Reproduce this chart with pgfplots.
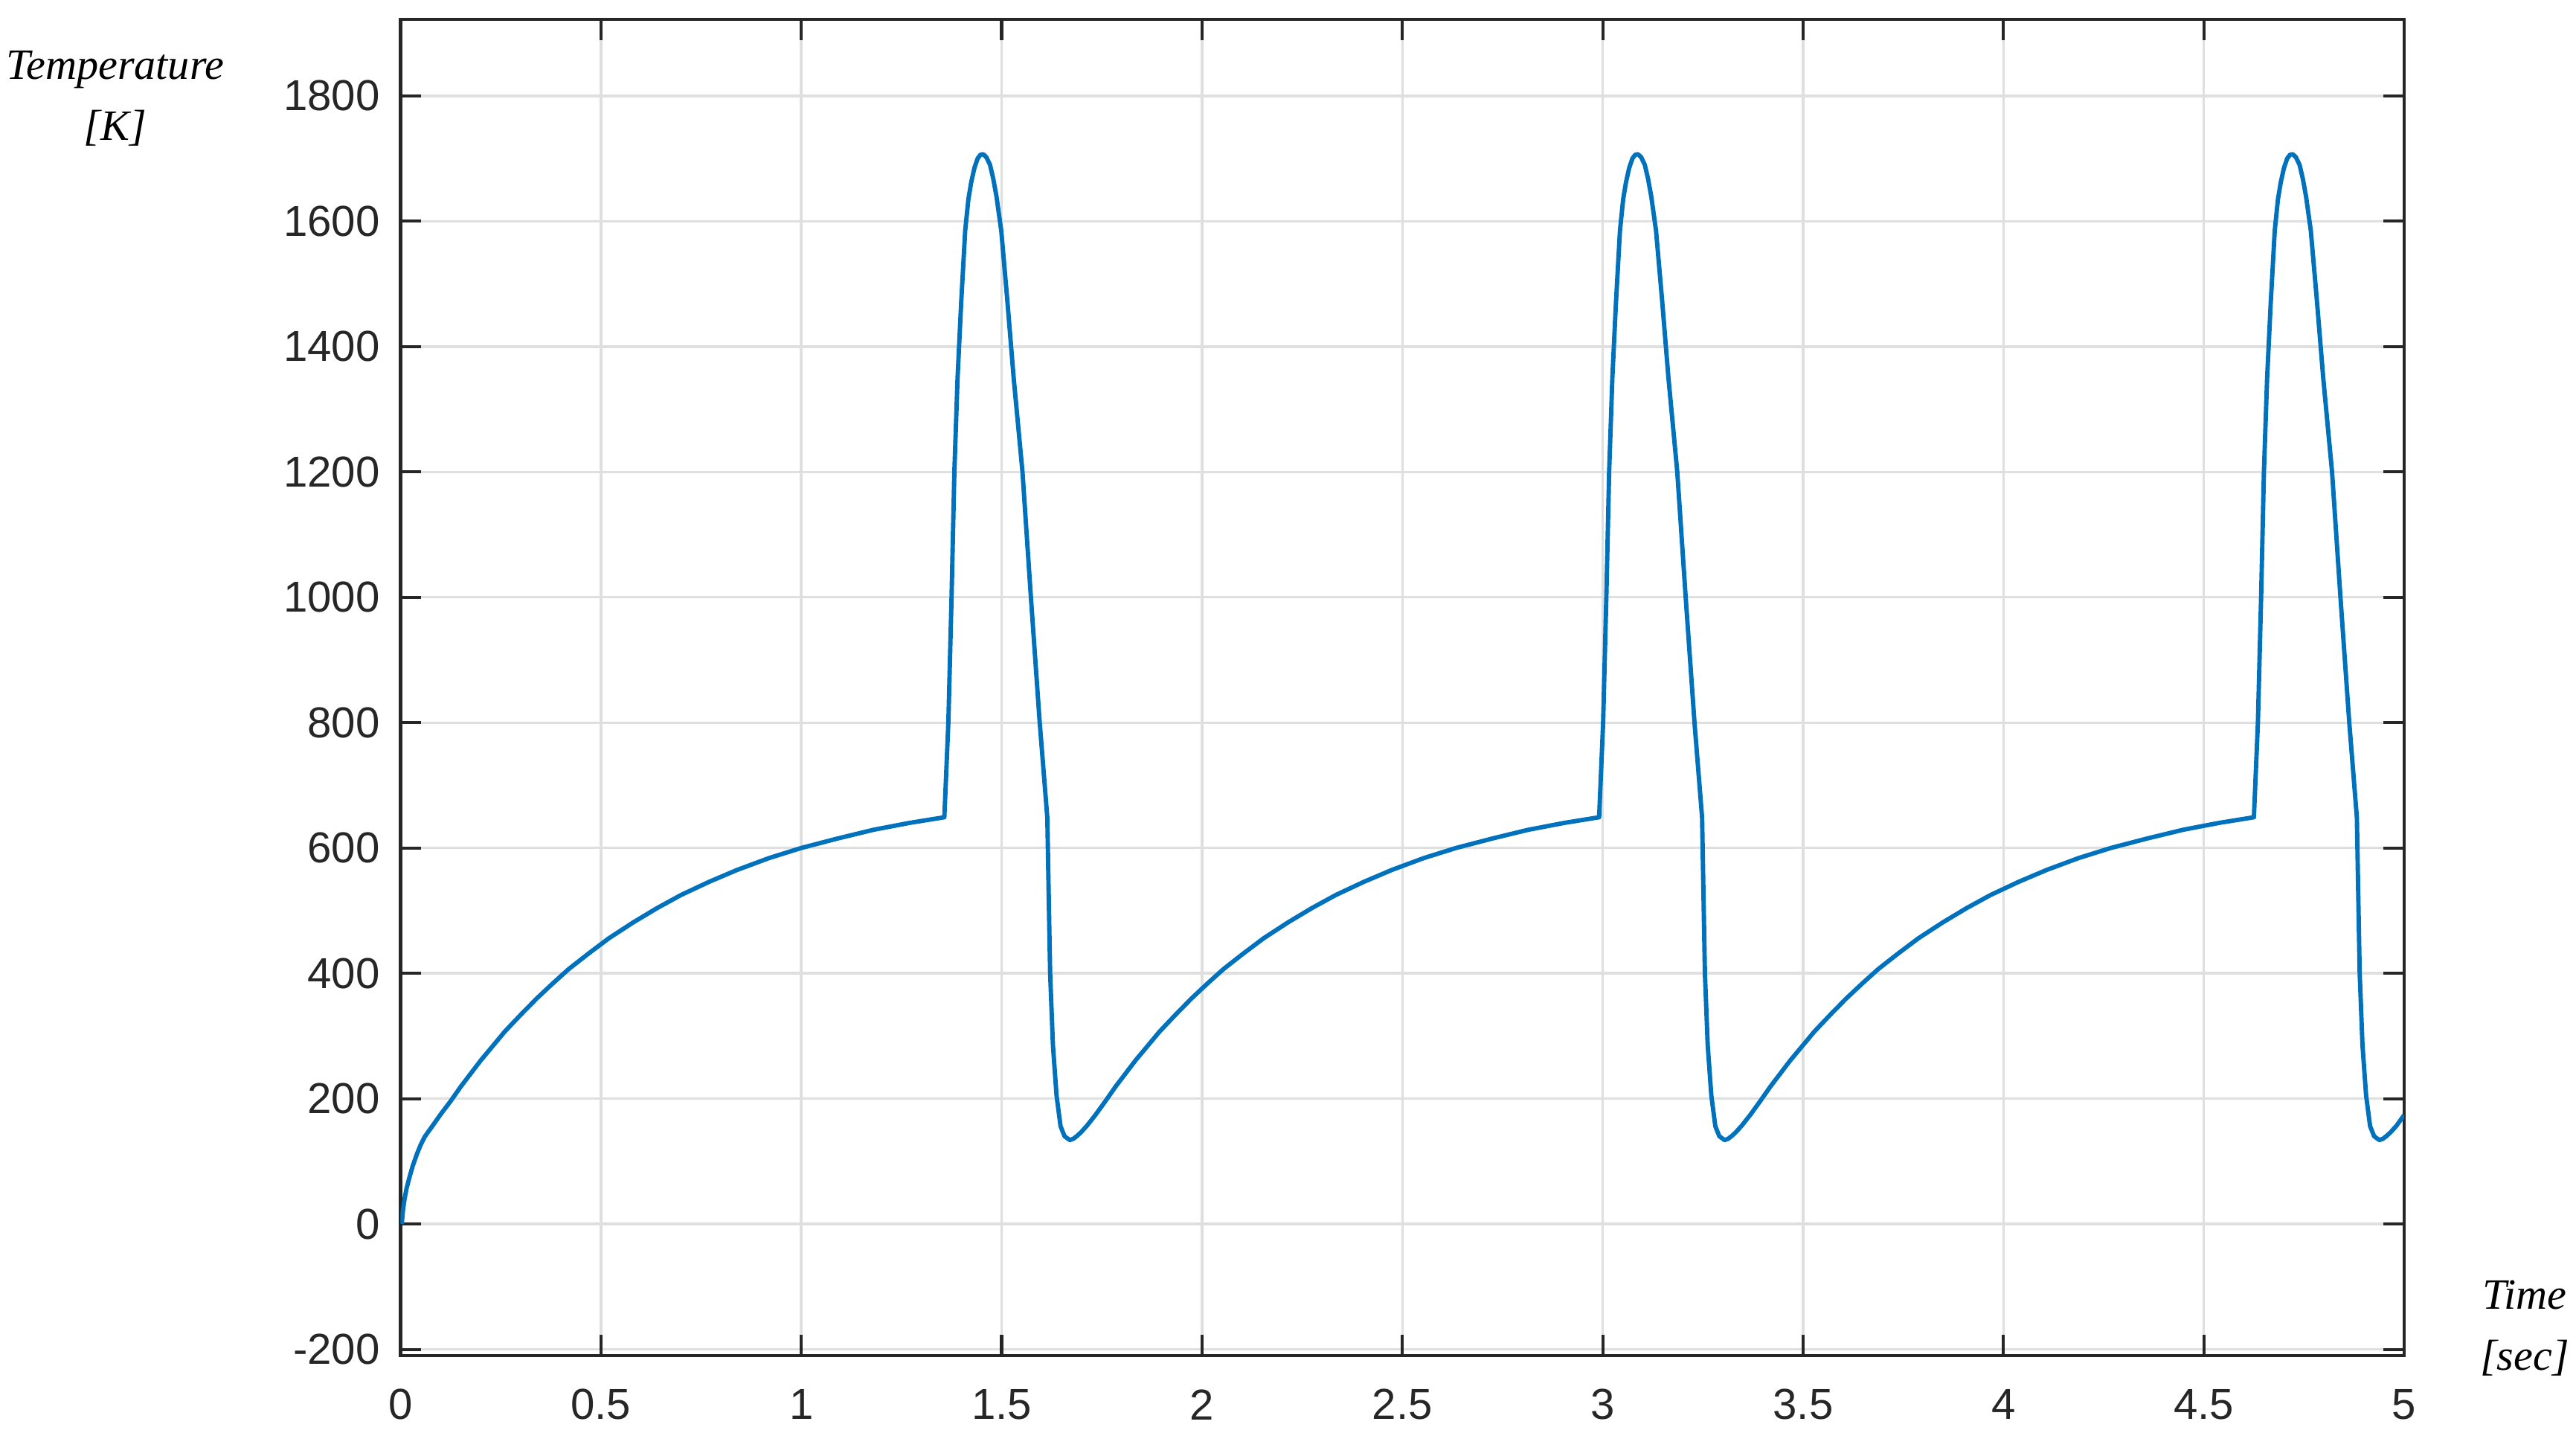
\documentclass[border=0pt]{standalone}
\usepackage{fontspec}
\setmainfont{Liberation Sans}
\newfontfamily\labelfont{Liberation Serif}
\usepackage{pgfplots}
\pgfplotsset{compat=1.18}
\definecolor{mblue}{RGB}{0,114,189}
\definecolor{gridgray}{RGB}{223,223,223}
\definecolor{axisgray}{RGB}{38,38,38}

% temperature trace
\pgfplotstableread{
t T
0.003 0
0.006 22
0.010 40
0.015 57
0.022 74
0.030 92
0.041 112
0.050 126
0.060 139
0.079 156
0.100 175
0.126 197
0.150 219
0.175 240
0.200 261
0.230 284
0.260 307
0.300 334
0.340 360
0.380 384
0.420 407
0.470 432
0.520 456
0.580 481
0.640 504
0.700 525
0.770 546
0.840 565
0.920 584
1.000 600
1.090 615
1.180 629
1.270 640
1.357 649
1.367 800
1.375 1000
1.382 1200
1.390 1350
1.399 1470
1.409 1585
1.417 1635
1.424 1662
1.432 1685
1.440 1700
1.447 1706
1.454 1707
1.462 1702
1.471 1690
1.479 1668
1.487 1640
1.499 1585
1.514 1475
1.530 1350
1.552 1200
1.573 1000
1.595 800
1.614 648
1.617 540
1.621 400
1.628 285
1.637 205
1.647 156
1.657 140
1.670 134
1.679 136
1.689 141
1.699 147
1.713 157
1.734 174
1.760 197
1.784 219
1.809 240
1.834 261
1.864 284
1.894 307
1.934 334
1.974 360
2.014 384
2.054 407
2.104 432
2.154 456
2.214 481
2.274 504
2.334 525
2.404 546
2.474 565
2.554 584
2.634 600
2.724 615
2.814 629
2.904 640
2.991 649
3.001 800
3.009 1000
3.016 1200
3.024 1350
3.033 1470
3.043 1585
3.051 1635
3.058 1662
3.066 1685
3.074 1700
3.081 1706
3.088 1707
3.096 1702
3.105 1690
3.113 1668
3.121 1640
3.133 1585
3.148 1475
3.164 1350
3.186 1200
3.207 1000
3.229 800
3.248 648
3.251 540
3.255 400
3.262 285
3.271 205
3.281 156
3.291 140
3.304 134
3.313 136
3.323 141
3.333 147
3.347 157
3.368 174
3.394 197
3.418 219
3.443 240
3.468 261
3.498 284
3.528 307
3.568 334
3.608 360
3.648 384
3.688 407
3.738 432
3.788 456
3.848 481
3.908 504
3.968 525
4.038 546
4.108 565
4.188 584
4.268 600
4.358 615
4.448 629
4.538 640
4.625 649
4.635 800
4.643 1000
4.650 1200
4.658 1350
4.667 1470
4.677 1585
4.685 1635
4.692 1662
4.700 1685
4.708 1700
4.715 1706
4.722 1707
4.730 1702
4.739 1690
4.747 1668
4.755 1640
4.767 1585
4.782 1475
4.798 1350
4.820 1200
4.841 1000
4.863 800
4.882 648
4.885 540
4.889 400
4.896 285
4.905 205
4.915 156
4.925 140
4.938 134
4.947 136
4.957 141
4.967 147
4.981 157
5.000 174
}\temptable

\begin{document}
\begin{tikzpicture}
\begin{axis}[
  scale only axis, width=388.9pt, height=259.3pt,
  xmin=0, xmax=5, ymin=-210, ymax=1922,
  xtick={0,0.5,...,5}, ytick={-200,0,...,1800},
  grid=major, major grid style={gridgray, line width=0.5pt},
  axis line style={axisgray, line width=0.6pt},
  tick style={axisgray, line width=0.6pt},
  major tick length=4pt, tick align=inside,
  ticklabel style={font=\fontsize{8.4}{10}\selectfont, text=black!85},
  /pgf/number format/assume math mode=true,
  /pgf/number format/1000 sep={},
  xticklabel style={anchor=center, yshift=-9.5pt},
  yticklabel style={xshift=-0.5pt},
  xlabel={Time\\{[sec]}},
  ylabel={Temperature\\{[K]}},
  every axis x label/.style={at={(axis description cs:1,0)}, anchor=center,
    xshift=23.4pt, yshift=5.3pt, align=center,
    font=\labelfont\itshape\fontsize{8.4}{11.8}\selectfont},
  every axis y label/.style={at={(axis description cs:0,1)}, anchor=center,
    xshift=-55.4pt, yshift=-15.3pt, align=center,
    font=\labelfont\itshape\fontsize{8.4}{11.8}\selectfont},
]
\addplot[mblue, line width=0.85pt, line join=round] table[x=t, y=T] {\temptable};
\end{axis}
\pgfresetboundingbox
\path (-77.75pt,-14.87pt) rectangle (422.25pt,263.07pt);
\end{tikzpicture}
\end{document}
